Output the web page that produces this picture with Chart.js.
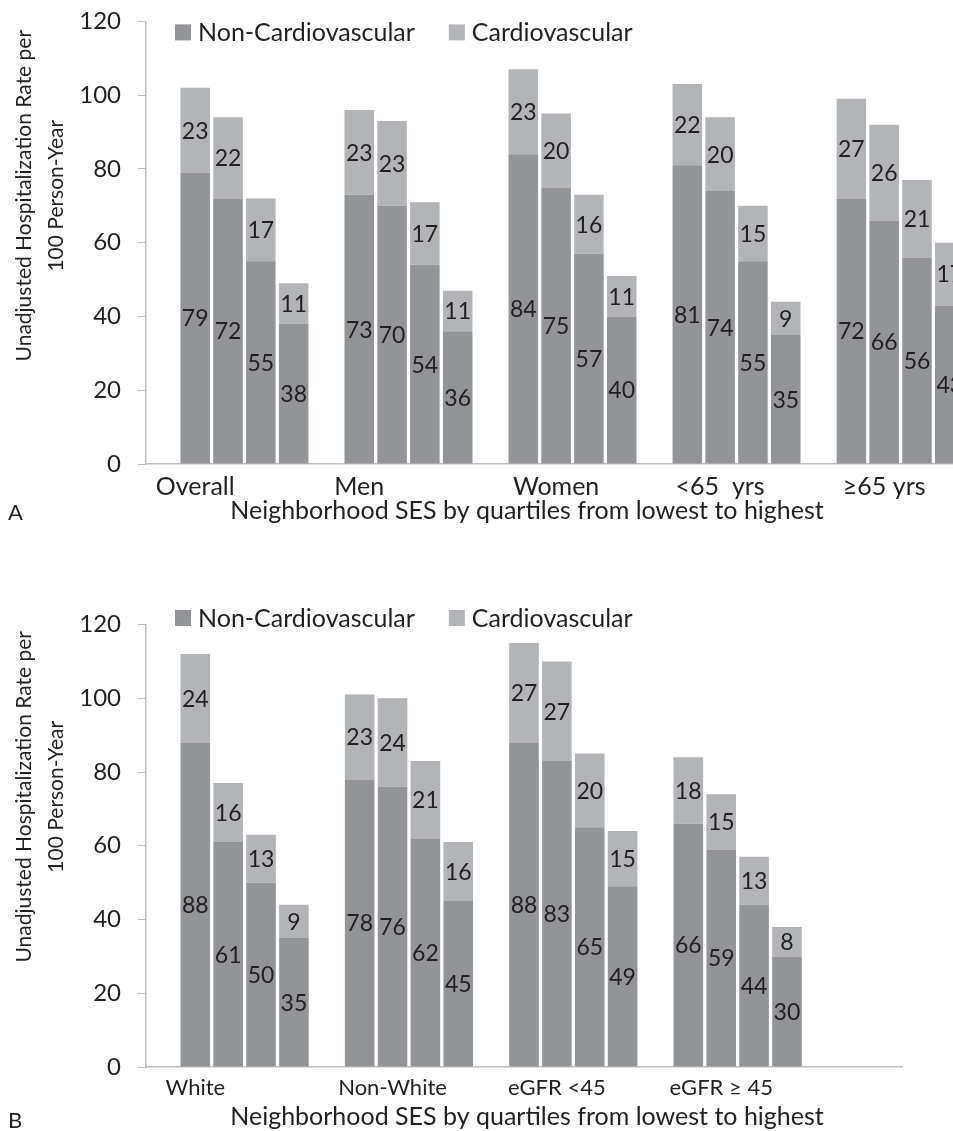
<!DOCTYPE html>
<html>
<head>
<meta charset="utf-8">
<script src="https://cdn.jsdelivr.net/npm/chart.js@4.4.1/dist/chart.umd.min.js"></script>
<style>
  html, body { margin: 0; padding: 0; background: #fff; overflow: hidden; width: 953px; height: 1131px; }
  .panel { position: absolute; left: 0; }
  .panel canvas { display: block; }
  #panelA { top: -10px; }
  #panelB { top: 590px; }
  .tag { position: absolute; left: 8px; font-family: Lato, sans-serif; font-size: 22px; color: #231f20; line-height: 28px; }
</style>
</head>
<body>
<div class="panel" id="panelA"><canvas id="chartA" width="1054" height="545"></canvas></div>
<div class="panel" id="panelB"><canvas id="chartB" width="1054" height="542"></canvas></div>
<div class="tag" style="top:498px">A</div>
<div class="tag" style="top:1106px">B</div>
<script>
// panel A: subgroups, 4 SES quartiles each (lowest -> highest)
const groupsA = ['Overall', 'Men', 'Women', '<65  yrs', '≥65 yrs'];
const nonCardioA = [[79, 72, 55, 38], [73, 70, 54, 36], [84, 75, 57, 40], [81, 74, 55, 35], [72, 66, 56, 43]];
const cardioA = [[23, 22, 17, 11], [23, 23, 17, 11], [23, 20, 16, 11], [22, 20, 15, 9], [27, 26, 21, 17]];

// panel B
const groupsB = ['White', 'Non-White', 'eGFR <45', 'eGFR ≥ 45'];
const nonCardioB = [[88, 61, 50, 35], [78, 76, 62, 45], [88, 83, 65, 49], [66, 59, 44, 30]];
const cardioB = [[24, 16, 13, 9], [23, 24, 21, 16], [27, 27, 20, 15], [18, 15, 13, 8]];

const seriesNames = ['Non-Cardiovascular', 'Cardiovascular'];
const yTitle = ['Unadjusted Hospitalization Rate per', '100 Person-Year'];
const xTitle = 'Neighborhood SES by quartiles from lowest to highest';

// which bar of each group carries the group label
const labelBarA = [0, 0, 1, 1, 1];
const labelBarB = [0, 1, 1, 1];

const DARK = '#939498';
const LIGHT = '#b3b4b8';
const AXIS = '#bfbfbf';
const TEXT = '#231f20';
const FONT = 'Lato';

// one category slot per bar, an empty slot before each group
function slots(groups, lower, upper, labelBar, extra) {
  const ids = ['gap0'], ticks = [''], lo = [null], up = [null];
  groups.forEach((g, gi) => {
    lower[gi].forEach((v, q) => {
      ids.push(g + ' Q' + (q + 1));
      ticks.push(q === labelBar[gi] ? g : '');
      lo.push(v);
      up.push(upper[gi][q]);
    });
    ids.push('gap' + (gi + 1)); ticks.push(''); lo.push(null); up.push(null);
  });
  for (let k = 0; k < extra; k++) {
    ids.push('pad' + k); ticks.push(''); lo.push(null); up.push(null);
  }
  return { ids, ticks, lo, up };
}

const keyBoxes = {
  id: 'keyBoxes',
  afterDraw(chart, args, o) {
    const { ctx, chartArea } = chart;
    ctx.save();
    ctx.font = '25px ' + FONT;
    ctx.textBaseline = 'middle';
    let x = chartArea.left + 29;
    const y = chartArea.top + o.dy;
    chart.data.datasets.forEach(ds => {
      ctx.fillStyle = ds.backgroundColor;
      ctx.fillRect(x, y - 8, 16, 16);
      ctx.fillStyle = TEXT;
      ctx.fillText(ds.label, x + 23, y + 1);
      x += 23 + ctx.measureText(ds.label).width + 34;
    });
    ctx.restore();
  }
};

const barValues = {
  id: 'barValues',
  afterDatasetsDraw(chart) {
    const { ctx } = chart;
    ctx.save();
    ctx.font = '23px ' + FONT;
    ctx.fillStyle = TEXT;
    ctx.textAlign = 'center';
    ctx.textBaseline = 'middle';
    chart.data.datasets.forEach((ds, i) => {
      chart.getDatasetMeta(i).data.forEach((bar, j) => {
        const v = ds.data[j];
        if (v == null) return;
        const p = bar.getProps(['x', 'y', 'base'], true);
        ctx.fillText(String(v), p.x, (p.y + p.base) / 2 + 1);
      });
    });
    ctx.restore();
  }
};

// axis titles: y title sits above the plot middle, x title centred on the page
const axisTitles = {
  id: 'axisTitles',
  afterDraw(chart, args, o) {
    const { ctx, chartArea } = chart;
    ctx.save();
    ctx.fillStyle = TEXT;
    ctx.textAlign = 'center';
    ctx.textBaseline = 'middle';
    ctx.font = '21px ' + FONT;
    const cy = (chartArea.top + chartArea.bottom) / 2 + o.shift;
    yTitle.forEach((line, k) => {
      ctx.save();
      ctx.translate(o.x + k * o.gap, cy);
      ctx.rotate(-Math.PI / 2);
      ctx.fillText(line, 0, 0);
      ctx.restore();
    });
    ctx.font = '25px ' + FONT;
    ctx.fillText(xTitle, chart.width / 2, chartArea.bottom + o.dy);
    ctx.restore();
  }
};

function makeChart(id, s, o) {
  return new Chart(document.getElementById(id), {
    type: 'bar',
    data: {
      labels: s.ids,
      datasets: [
        { label: seriesNames[0], data: s.lo, backgroundColor: DARK },
        { label: seriesNames[1], data: s.up, backgroundColor: LIGHT }
      ]
    },
    options: {
      responsive: false,
      animation: false,
      layout: { padding: { left: 0, right: o.padRight, top: o.padTop, bottom: o.padBottom } },
      datasets: { bar: { categoryPercentage: 1, barPercentage: 0.9 } },
      scales: {
        x: {
          stacked: true,
          grid: { display: false, drawTicks: false },
          border: { color: AXIS, width: 1.5 },
          ticks: {
            autoSkip: false, maxRotation: 0, minRotation: 0, padding: 8,
            color: TEXT, font: { family: FONT, size: o.labelSize },
            callback: (v, i) => s.ticks[i]
          },
          afterFit: sc => { sc.height = 36; }
        },
        y: {
          stacked: true,
          min: 0, max: 120,
          ticks: { stepSize: 20, padding: 17, color: TEXT, font: { family: FONT, size: 24 } },
          grid: { drawOnChartArea: false, drawTicks: true, tickLength: 8, color: AXIS },
          border: { color: AXIS, width: 1.5 },
          afterFit: sc => { sc.width = 146; }
        }
      },
      plugins: {
        legend: { display: false },
        tooltip: { enabled: false },
        keyBoxes: { dy: o.legendDy },
        axisTitles: { x: 24, gap: 32, shift: o.titleShift, dy: o.titleDy }
      }
    },
    plugins: [keyBoxes, barValues, axisTitles]
  });
}

makeChart('chartA', slots(groupsA, nonCardioA, cardioA, labelBarA, 0),
  { padRight: 55, padTop: 31, padBottom: 35, legendDy: 11, labelSize: 25, titleShift: -47, titleDy: 47 });
makeChart('chartB', slots(groupsB, nonCardioB, cardioB, labelBarB, 2),
  { padRight: 152, padTop: 34.5, padBottom: 29, legendDy: -6.5, labelSize: 22, titleShift: -49, titleDy: 50 });
</script>
</body>
</html>
